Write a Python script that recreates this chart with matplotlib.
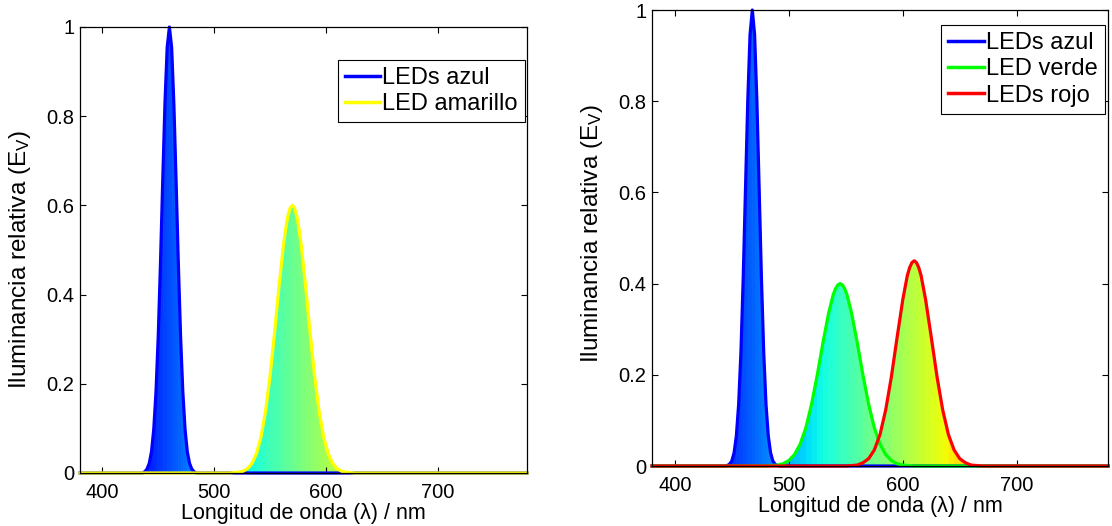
import matplotlib
matplotlib.use("Agg")
import matplotlib.pyplot as plt

plt.rcParams['font.family'] = ['Liberation Sans', 'DejaVu Sans']
plt.rcParams['mathtext.fontset'] = 'custom'
plt.rcParams['mathtext.rm'] = 'Liberation Sans'
plt.rcParams['mathtext.it'] = 'Liberation Sans:italic'
plt.rcParams['mathtext.default'] = 'regular'

# ---------------- data ----------------
# Left panel: blue LED + yellow phosphor LED
blue1_nm = [380, 436, 438, 440, 442, 444, 446, 448, 450, 452, 454, 456, 458, 460,
            462, 464, 466, 468, 470, 472, 474, 476, 478, 480, 482, 484, 780]
blue1_ev = [0, 0, 0.003, 0.009, 0.022, 0.048, 0.098, 0.182, 0.306, 0.469, 0.653, 0.827, 0.954, 1.0,
            0.954, 0.827, 0.653, 0.469, 0.306, 0.182, 0.098, 0.048, 0.022, 0.009, 0.003, 0, 0]

yellow_nm = [380, 514, 518, 522, 526, 530, 534, 538, 542, 546, 550, 554, 558, 562, 564, 566, 568, 570,
             572, 574, 576, 578, 582, 586, 590, 594, 598, 602, 606, 610, 614, 618, 622, 626, 780]
yellow_ev = [0, 0, 0.001, 0.002, 0.004, 0.010, 0.022, 0.044, 0.081, 0.138, 0.216, 0.312, 0.416, 0.510,
             0.547, 0.576, 0.594, 0.600, 0.594, 0.576, 0.547, 0.510, 0.416, 0.312, 0.216, 0.138,
             0.081, 0.044, 0.022, 0.010, 0.004, 0.002, 0.001, 0, 0]

# Right panel: RGB LEDs
blue2_nm = [380, 444, 446, 448, 450, 452, 454, 456, 458, 460, 462, 464, 466, 468,
            470, 472, 474, 476, 478, 480, 482, 484, 486, 488, 490, 492, 780]
blue2_ev = [0, 0, 0.001, 0.004, 0.011, 0.029, 0.066, 0.135, 0.249, 0.411, 0.607, 0.801, 0.946, 1.0,
            0.946, 0.801, 0.607, 0.411, 0.249, 0.135, 0.066, 0.029, 0.011, 0.004, 0.001, 0, 0]

green_nm = [380, 480, 485, 490, 495, 500, 505, 510, 515, 520, 525, 530, 535, 539, 541, 543, 545,
            547, 549, 551, 555, 560, 565, 570, 575, 580, 585, 590, 595, 600, 605, 610, 780]
green_ev = [0, 0, 0.001, 0.002, 0.005, 0.012, 0.025, 0.048, 0.084, 0.136, 0.200, 0.271, 0.336,
            0.376, 0.389, 0.397, 0.400, 0.397, 0.389, 0.376, 0.336, 0.271, 0.200, 0.136, 0.084,
            0.048, 0.025, 0.012, 0.005, 0.002, 0.001, 0, 0]

red_nm = [380, 550, 555, 560, 565, 570, 575, 580, 585, 590, 595, 600, 604, 606, 608, 610,
          612, 614, 616, 620, 625, 630, 635, 640, 645, 650, 655, 660, 665, 670, 780]
red_ev = [0, 0, 0.001, 0.002, 0.007, 0.016, 0.035, 0.069, 0.123, 0.196, 0.282, 0.365, 0.418,
          0.435, 0.446, 0.450, 0.446, 0.435, 0.418, 0.365, 0.282, 0.196, 0.123, 0.069, 0.035,
          0.016, 0.007, 0.002, 0.001, 0, 0]

x_ticks = [400, 500, 600, 700]
y_ticks = [0, 0.2, 0.4, 0.6, 0.8, 1.0]
y_ticklabels = ['0', '0.2', '0.4', '0.6', '0.8', '1']

left_series = [(blue1_nm, blue1_ev, 'LEDs azul', (0, 0, 1)),
               (yellow_nm, yellow_ev, 'LED amarillo', (1, 1, 0))]
right_series = [(blue2_nm, blue2_ev, 'LEDs azul', (0, 0, 1)),
                (green_nm, green_ev, 'LED verde', (0, 1, 0)),
                (red_nm, red_ev, 'LEDs rojo', (1, 0, 0))]

xlabel = 'Longitud de onda (λ) / nm'
ylabel = 'Iluminancia relativa (E$_{V}$)'

# ---------------- drawing ----------------
W, H = 1112, 526
fig = plt.figure(figsize=(W / 100, H / 100), dpi=100)
axL = fig.add_axes([80 / W, 1 - 473 / H, 447 / W, 446 / H])
axR = fig.add_axes([652 / W, 1 - 466 / H, 456 / W, 456 / H])

cmap = plt.get_cmap('jet')
norm = plt.Normalize(380, 780)


def draw_panel(ax, series, legend_anchor, ylabel_xy):
    for lam, val, _, _ in series:
        for i in range(len(lam) - 1):
            if val[i] == 0 and val[i + 1] == 0:
                continue
            c = cmap(norm((lam[i] + lam[i + 1]) / 2))
            ax.fill_between(lam[i:i + 2], val[i:i + 2], color=c, ec=c, lw=0.6, zorder=1)
    handles = []
    for lam, val, lab, col in series:
        h, = ax.plot(lam, val, color=col, lw=2.3, label=lab, zorder=3,
                     clip_on=False, solid_joinstyle='round')
        handles.append(h)
    ax.set_xlim(380, 780)
    ax.set_ylim(0, 1)
    ax.set_xticks(x_ticks)
    ax.set_yticks(y_ticks)
    ax.set_yticklabels(y_ticklabels)
    ax.tick_params(direction='in', top=True, right=True, length=4, width=0.8,
                   labelsize=14.5, colors='black')
    ax.tick_params(axis='x', pad=7)
    ax.tick_params(axis='y', pad=4)
    for s in ax.spines.values():
        s.set_linewidth(0.9)
        s.set_color('black')
        s.set_zorder(4)
    ax.set_xlabel(xlabel, fontsize=15.5, labelpad=1)
    ax.set_ylabel(ylabel, fontsize=17.5)
    ax.yaxis.set_label_coords(*ylabel_xy)
    leg = ax.legend(handles=handles, loc='upper right', bbox_to_anchor=legend_anchor,
                    fontsize=17, handlelength=1.5, handletextpad=0.1, borderpad=0.3,
                    labelspacing=0.18, borderaxespad=0, fancybox=False, framealpha=1,
                    edgecolor='black')
    leg.get_frame().set_linewidth(0.8)
    for line in leg.get_lines():
        line.set_linewidth(2.5)


draw_panel(axL, left_series, ((525 - 80) / 447, (473 - 60) / 446),
           ((33 - 80) / 447, 0.48))
draw_panel(axR, right_series, ((1105 - 652) / 456, (466 - 25) / 456),
           ((605 - 652) / 456, 0.51))

fig.savefig('out.png', dpi=100)
